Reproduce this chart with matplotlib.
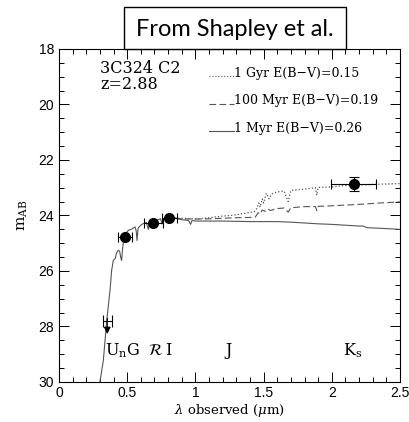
import matplotlib
matplotlib.use('Agg')
import matplotlib.pyplot as plt
from matplotlib.patches import Rectangle

# photometry of 3C324 C2 (AB magnitudes)
phot_lam = [0.484, 0.690, 0.810, 2.160]
phot_mag = [24.79, 24.26, 24.08, 22.88]
phot_xerr = [0.054, 0.070, 0.055, 0.165]
phot_yerr = [0.0, 0.0, 0.0, 0.25]

# U_n band upper limit
ulim_lam = 0.354
ulim_mag = 27.82
ulim_xerr = 0.034

# shared blue part of the model spectra
blue_lam = [0.300, 0.325, 0.350, 0.374, 0.386, 0.398, 0.412, 0.420, 0.425, 0.435,
            0.445, 0.452, 0.459, 0.466, 0.475, 0.484, 0.497, 0.510, 0.530, 0.545,
            0.557, 0.566, 0.572, 0.580, 0.600, 0.618, 0.640, 0.655, 0.665, 0.690,
            0.720, 0.745, 0.755, 0.770, 0.790, 0.810, 0.830, 0.850]
blue_mag = [30.00, 29.23, 27.78, 26.70, 25.98, 25.62, 25.55, 25.38, 25.32, 25.25,
            25.30, 25.50, 25.62, 25.20, 24.85, 24.70, 24.60, 24.53, 24.50, 24.45,
            24.41, 24.55, 24.90, 24.45, 24.35, 24.29, 24.25, 24.50, 24.25, 24.17,
            24.16, 24.12, 24.30, 24.12, 24.08, 24.05, 24.08, 24.10]

# 1 Myr, E(B-V)=0.26
myr1_lam = [0.850, 0.900, 0.950, 0.965, 0.975, 1.000, 1.100, 1.200, 1.300, 1.400,
            1.500, 1.600, 1.700, 1.800, 1.900, 2.000, 2.100, 2.200, 2.230, 2.260,
            2.350, 2.500]
myr1_mag = [24.10, 24.15, 24.18, 24.32, 24.18, 24.20, 24.20, 24.20, 24.21, 24.22,
            24.22, 24.22, 24.24, 24.27, 24.30, 24.32, 24.35, 24.38, 24.38, 24.44,
            24.46, 24.50]

# 100 Myr, E(B-V)=0.19
myr100_lam = [0.850, 0.900, 1.000, 1.100, 1.200, 1.300, 1.400, 1.440, 1.460, 1.475,
              1.490, 1.510, 1.530, 1.550, 1.600, 1.650, 1.680, 1.700, 1.800, 1.880,
              1.890, 1.900, 2.000, 2.200, 2.350, 2.500]
myr100_mag = [24.10, 24.12, 24.13, 24.12, 24.10, 24.08, 24.07, 24.05, 23.90, 23.95,
              23.80, 23.85, 23.76, 23.82, 23.75, 23.73, 23.88, 23.72, 23.68, 23.68,
              23.82, 23.67, 23.65, 23.60, 23.55, 23.51]

# 1 Gyr, E(B-V)=0.15
gyr1_lam = [0.850, 0.900, 1.000, 1.030, 1.100, 1.200, 1.280, 1.350, 1.430, 1.450,
            1.465, 1.475, 1.490, 1.500, 1.520, 1.540, 1.560, 1.600, 1.650, 1.680,
            1.700, 1.800, 1.880, 1.890, 1.900, 2.000, 2.100, 2.300, 2.500]
gyr1_mag = [24.10, 24.10, 24.12, 24.11, 24.08, 24.02, 23.99, 23.93, 23.87, 23.75,
            23.55, 23.70, 23.40, 23.55, 23.20, 23.40, 23.22, 23.15, 23.12, 23.50,
            23.10, 23.05, 23.00, 23.27, 22.99, 22.97, 22.92, 22.88, 22.85]

# filter names and where they sit along the wavelength axis
filt_labels = [r'U$_{\rm n}$G', r'$\mathcal{R}$', 'I', 'J', r'K$_{\rm s}$']
filt_lam = [0.335, 0.655, 0.775, 1.220, 2.085]

legend_labels = ['1 Gyr E(B\u2212V)=0.15', '100 Myr E(B\u2212V)=0.19', '1 Myr E(B\u2212V)=0.26']
legend_mag = [18.87, 19.87, 20.86]
legend_styles = [':', (0, (6, 3)), '-']

serif = ['DejaVu Serif']
plt.rcParams['font.family'] = ['Liberation Sans', 'DejaVu Sans']
plt.rcParams['mathtext.fontset'] = 'dejavuserif'

fig = plt.figure(figsize=(4.10, 4.22), dpi=100)
ax = fig.add_axes([0.1439, 0.0948, 0.8317, 0.7891])

line_col = '#555555'
ax.plot(blue_lam, blue_mag, color=line_col, lw=0.8)
ax.plot(myr1_lam, myr1_mag, color=line_col, lw=0.8, ls='-')
ax.plot(myr100_lam, myr100_mag, color=line_col, lw=0.8, ls=(0, (6, 3)))
ax.plot(gyr1_lam, gyr1_mag, color=line_col, lw=0.9, ls=':')

ax.errorbar(phot_lam, phot_mag, xerr=phot_xerr, yerr=phot_yerr, fmt='o', color='black',
            ms=7, elinewidth=0.8, capsize=3.5, capthick=0.8, zorder=5)

# upper limit: horizontal bar plus arrow towards fainter magnitudes
ax.errorbar([ulim_lam], [ulim_mag], xerr=[ulim_xerr], fmt='none', ecolor='black',
            elinewidth=0.8, capsize=4, capthick=0.8)
ax.annotate('', xy=(ulim_lam, ulim_mag + 0.45), xytext=(ulim_lam, ulim_mag - 0.12),
            arrowprops=dict(arrowstyle='-|>', color='black', lw=0.8,
                            mutation_scale=10, shrinkA=0, shrinkB=0))

for lab, lam in zip(filt_labels, filt_lam):
    ax.text(lam, 28.87, lab, family=serif, fontsize=11.5, ha='left', va='center')

ax.text(0.30, 18.72, '3C324 C2', family=serif, fontsize=11.5, va='center')
ax.text(0.30, 19.28, 'z=2.88', family=serif, fontsize=11.5, va='center')

for lab, y, ls in zip(legend_labels, legend_mag, legend_styles):
    ax.plot([1.10, 1.28], [y + 0.1, y + 0.1], color=line_col, lw=0.8, ls=ls)
    ax.text(1.285, y, lab, family=serif, fontsize=9, va='center')

ax.set_xlim(0, 2.5)
ax.set_ylim(30, 18)
ax.set_xticks([0, 0.5, 1, 1.5, 2, 2.5])
ax.set_xticklabels(['0', '0.5', '1', '1.5', '2', '2.5'])
ax.set_xticks([i / 10 for i in range(26)], minor=True)
ax.set_yticks([18, 20, 22, 24, 26, 28, 30])
ax.set_yticks([18 + i * 0.5 for i in range(25)], minor=True)
ax.tick_params(which='both', direction='in', top=True, right=True, labelsize=10, width=0.7)
ax.tick_params(which='major', length=7)
ax.tick_params(which='minor', length=3.5)
ax.tick_params(axis='x', pad=3)
for sp in ax.spines.values():
    sp.set_linewidth(0.8)

ax.set_xlabel(r'$\lambda$ observed ($\mu$m)', family=serif, fontsize=9.5, labelpad=1)
ax.set_ylabel(r'm$_{\rm AB}$', family=serif, fontsize=11, labelpad=6)

# boxed attribution above the plot
fig.patches.append(Rectangle((124 / 410, 1 - 49 / 422), 222 / 410, 42 / 422,
                             transform=fig.transFigure, facecolor='white',
                             edgecolor='black', lw=1.0, zorder=10))
fig.text(235 / 410, 1 - 29 / 422, 'From Shapley et al.', ha='center', va='center',
         family=['Lato', 'DejaVu Sans'], fontsize=17, zorder=11)

fig.savefig('out.png', dpi=100)
